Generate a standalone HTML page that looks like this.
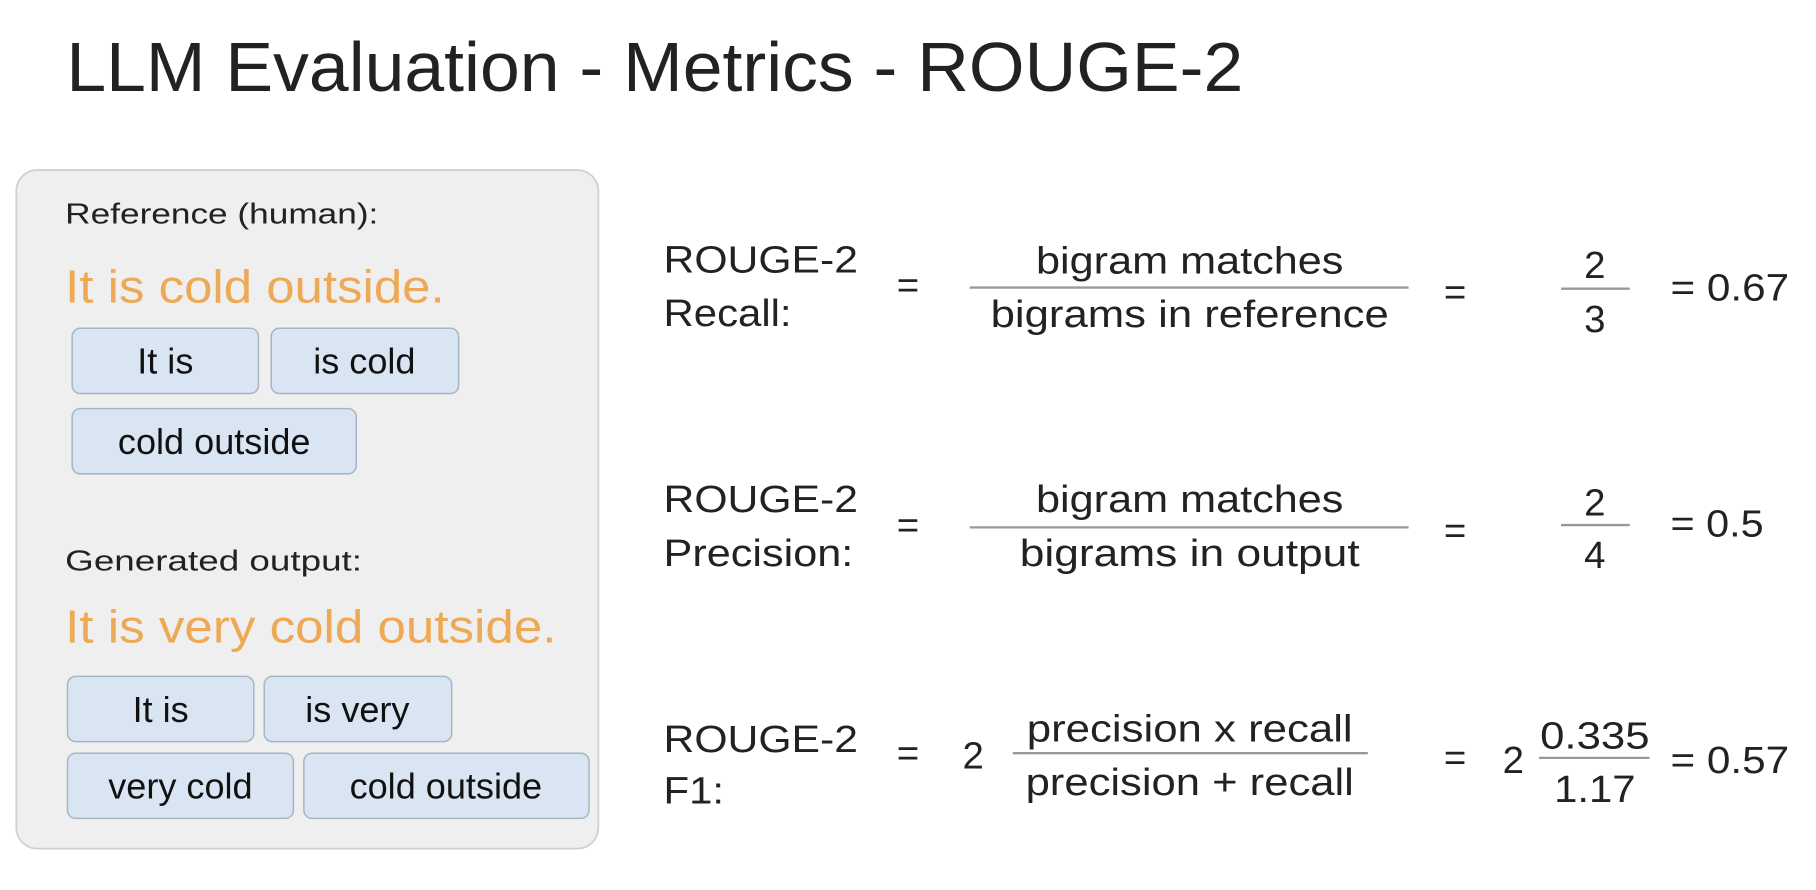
<!DOCTYPE html>
<html><head><meta charset="utf-8"><style>
html,body{margin:0;padding:0;background:#fff;width:1816px;height:890px;overflow:hidden}
svg{display:block}
text{font-family:"Liberation Sans",sans-serif;fill:#222}
.o{fill:#eda955}
.c{font-size:31px;fill:#111}
.m{font-size:33px}
</style></head><body>
<svg width="1816" height="890" viewBox="0 0 1560 764.5" preserveAspectRatio="none">
<rect width="1560" height="764.5" fill="#fff"/>
<text x="57" y="78" font-size="60" textLength="1011" lengthAdjust="spacingAndGlyphs">LLM Evaluation - Metrics - ROUGE-2</text>

<rect x="14" y="146" width="500" height="583" rx="18" fill="#efefef" stroke="#cfcfcf" stroke-width="1.5"/>
<text x="56" y="192" font-size="25" textLength="269" lengthAdjust="spacingAndGlyphs">Reference (human):</text>
<text class="o" x="56" y="260" font-size="40" textLength="326" lengthAdjust="spacingAndGlyphs">It is cold outside.</text>

<g>
<rect x="62" y="282" width="160" height="56" rx="7" fill="#d9e5f2" stroke="#a8b6c4" stroke-width="1.3"/>
<text class="c" x="142" y="321" text-anchor="middle">It is</text>
<rect x="233" y="282" width="161" height="56" rx="7" fill="#d9e5f2" stroke="#a8b6c4" stroke-width="1.3"/>
<text class="c" x="313" y="321" text-anchor="middle">is cold</text>
<rect x="62" y="351" width="244" height="56" rx="7" fill="#d9e5f2" stroke="#a8b6c4" stroke-width="1.3"/>
<text class="c" x="184" y="390" text-anchor="middle">cold outside</text>
</g>

<text x="56" y="490" font-size="25" textLength="255" lengthAdjust="spacingAndGlyphs">Generated output:</text>
<text class="o" x="56" y="552" font-size="40" textLength="422" lengthAdjust="spacingAndGlyphs">It is very cold outside.</text>

<g>
<rect x="58" y="581" width="160" height="56" rx="7" fill="#d9e5f2" stroke="#a8b6c4" stroke-width="1.3"/>
<text class="c" x="138" y="620" text-anchor="middle">It is</text>
<rect x="227" y="581" width="161" height="56" rx="7" fill="#d9e5f2" stroke="#a8b6c4" stroke-width="1.3"/>
<text class="c" x="307" y="620" text-anchor="middle">is very</text>
<rect x="58" y="647" width="194" height="56" rx="7" fill="#d9e5f2" stroke="#a8b6c4" stroke-width="1.3"/>
<text class="c" x="155" y="686" text-anchor="middle">very cold</text>
<rect x="261" y="647" width="245" height="56" rx="7" fill="#d9e5f2" stroke="#a8b6c4" stroke-width="1.3"/>
<text class="c" x="383" y="686" text-anchor="middle">cold outside</text>
</g>

<g>
<text class="m" x="570" y="234" textLength="167" lengthAdjust="spacingAndGlyphs">ROUGE-2</text>
<text class="m" x="570" y="280" textLength="110" lengthAdjust="spacingAndGlyphs">Recall:</text>
<text class="m" x="780" y="256" text-anchor="middle">=</text>
<text class="m" x="1022" y="235" text-anchor="middle" textLength="264" lengthAdjust="spacingAndGlyphs">bigram matches</text>
<line x1="833" y1="247" x2="1210" y2="247" stroke="#999" stroke-width="2"/>
<text class="m" x="1022" y="281" text-anchor="middle" textLength="342" lengthAdjust="spacingAndGlyphs">bigrams in reference</text>
<text class="m" x="1250" y="262" text-anchor="middle">=</text>
<text class="m" x="1370" y="239" text-anchor="middle">2</text>
<line x1="1341" y1="248" x2="1400" y2="248" stroke="#999" stroke-width="2"/>
<text class="m" x="1370" y="285" text-anchor="middle">3</text>
<text class="m" x="1435" y="258" textLength="102" lengthAdjust="spacingAndGlyphs">= 0.67</text>
</g>

<g>
<text class="m" x="570" y="440" textLength="167" lengthAdjust="spacingAndGlyphs">ROUGE-2</text>
<text class="m" x="570" y="486" textLength="163" lengthAdjust="spacingAndGlyphs">Precision:</text>
<text class="m" x="780" y="462" text-anchor="middle">=</text>
<text class="m" x="1022" y="440" text-anchor="middle" textLength="264" lengthAdjust="spacingAndGlyphs">bigram matches</text>
<line x1="833" y1="453" x2="1210" y2="453" stroke="#999" stroke-width="2"/>
<text class="m" x="1022" y="486" text-anchor="middle" textLength="292" lengthAdjust="spacingAndGlyphs">bigrams in output</text>
<text class="m" x="1250" y="467" text-anchor="middle">=</text>
<text class="m" x="1370" y="443" text-anchor="middle">2</text>
<line x1="1341" y1="451" x2="1400" y2="451" stroke="#999" stroke-width="2"/>
<text class="m" x="1370" y="488" text-anchor="middle">4</text>
<text class="m" x="1435" y="461" textLength="80" lengthAdjust="spacingAndGlyphs">= 0.5</text>
</g>

<g>
<text class="m" x="570" y="646" textLength="167" lengthAdjust="spacingAndGlyphs">ROUGE-2</text>
<text class="m" x="570" y="690" textLength="52" lengthAdjust="spacingAndGlyphs">F1:</text>
<text class="m" x="780" y="658" text-anchor="middle">=</text>
<text class="m" x="836" y="660" text-anchor="middle">2</text>
<text class="m" x="1022" y="637" text-anchor="middle" textLength="280" lengthAdjust="spacingAndGlyphs">precision x recall</text>
<line x1="870" y1="647" x2="1175" y2="647" stroke="#999" stroke-width="2"/>
<text class="m" x="1022" y="683" text-anchor="middle" textLength="282" lengthAdjust="spacingAndGlyphs">precision + recall</text>
<text class="m" x="1250" y="662" text-anchor="middle">=</text>
<text class="m" x="1300" y="664" text-anchor="middle">2</text>
<text class="m" x="1370" y="643" text-anchor="middle" textLength="94" lengthAdjust="spacingAndGlyphs">0.335</text>
<line x1="1322" y1="651" x2="1417" y2="651" stroke="#999" stroke-width="2"/>
<text class="m" x="1370" y="689" text-anchor="middle" textLength="70" lengthAdjust="spacingAndGlyphs">1.17</text>
<text class="m" x="1435" y="664" textLength="102" lengthAdjust="spacingAndGlyphs">= 0.57</text>
</g>
</svg>
</body></html>
